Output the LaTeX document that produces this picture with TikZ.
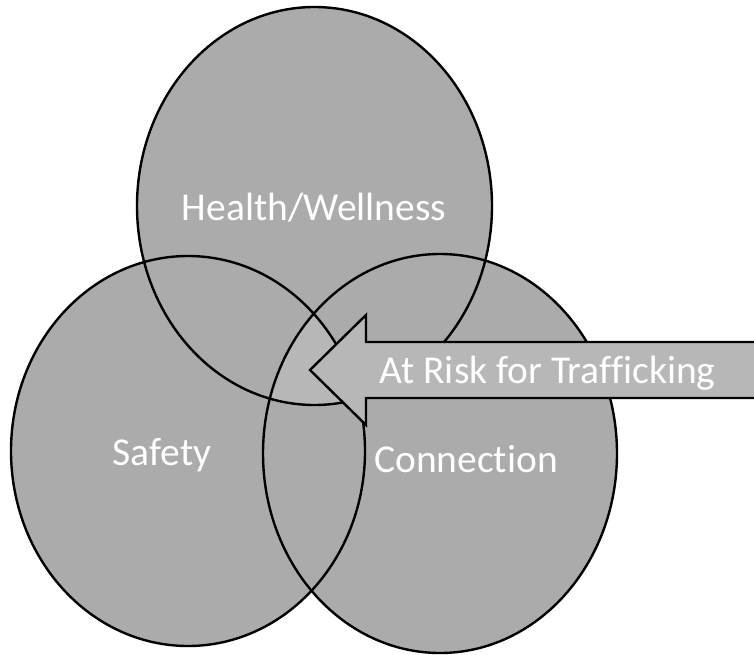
\documentclass[tikz,border=0pt]{standalone}
\usepackage{fontspec}
\setmainfont{Carlito}[Ligatures={NoCommon}]
\definecolor{vgray}{RGB}{171,171,171}
\definecolor{vlight}{RGB}{183,183,183}
\begin{document}
\begin{tikzpicture}[x=1pt,y=-1pt,
  vfill/.style={fill=vgray},
  vline/.style={draw=black,line width=2.4pt},
  lbl/.style={text=white,font=\fontsize{39.5}{47}\selectfont,inner sep=0pt,anchor=base}]
\useasboundingbox (0,0) rectangle (754,655);
\clip (0,0) rectangle (754,655);
% fills
\path[vfill] (314.5,206) ellipse [x radius=177.5pt, y radius=199pt];
\path[vfill] (188,451) ellipse [x radius=177pt, y radius=195pt];
\path[vfill] (440,453.5) ellipse [x radius=177pt, y radius=199.5pt];
% triple overlap
\begin{scope}
  \clip (314.5,206) ellipse [x radius=177.5pt, y radius=199pt];
  \clip (188,451) ellipse [x radius=177pt, y radius=195pt];
  \fill[vlight] (440,453.5) ellipse [x radius=177pt, y radius=199.5pt];
\end{scope}
% outlines
\path[vline] (314.5,206) ellipse [x radius=177.5pt, y radius=199pt];
\path[vline] (188,451) ellipse [x radius=177pt, y radius=195pt];
\path[vline] (440,453.5) ellipse [x radius=177pt, y radius=199.5pt];
% labels
\node[lbl] (health) at (314,220) {Health/Wellness};
\node[lbl] (safety) at (162,465) {Safety};
\node[lbl] (conn) at (466,472) {Connection};
% arrow
\path[vline,fill=vlight,line join=miter] (310,370) -- (366,315) -- (366,342) -- (770,342) -- (770,398) -- (366,398) -- (366,425) -- cycle;
\node[lbl] (risk) at (547.5,383) {At Risk for Trafficking};
\end{tikzpicture}
\end{document}
